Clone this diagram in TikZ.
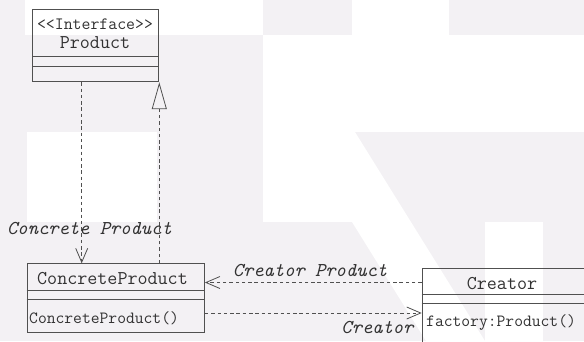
\documentclass[tikz,border=0pt]{standalone}
\usetikzlibrary{arrows.meta,calc}
\definecolor{wmgrey}{RGB}{243,241,244}
\definecolor{ink}{RGB}{80,80,80}
\definecolor{txt}{RGB}{50,50,50}
\tikzset{
  classbox/.style={draw=ink, line width=0.9pt, inner sep=0pt, anchor=north west},
  sepline/.style={draw=ink, line width=0.9pt},
  clsname/.style={text=txt, inner sep=0pt, font=\ttfamily\fontsize{19.5}{20}\selectfont},
  stereo/.style={text=txt, inner sep=0pt, font=\ttfamily\fontsize{17.3}{18}\selectfont},
  member/.style={text=txt, inner sep=0pt, anchor=west, font=\ttfamily\fontsize{17.1}{18}\selectfont},
  lbl/.style={text=txt, inner sep=0pt, font=\ttfamily\itshape\fontsize{19.6}{20}\selectfont},
  dep/.style={draw=ink, line width=0.8pt, dash pattern=on 3.5pt off 2.8pt,
    -{Straight Barb[length=14pt,width=12pt,line width=0.8pt]}},
  real/.style={draw=ink, line width=0.8pt, dash pattern=on 3.5pt off 2.8pt,
    -{Triangle[open,length=27pt,width=15pt,line width=0.8pt]}}
}
\begin{document}
\begin{tikzpicture}[x=1pt,y=-1pt]
  \clip (0,0) rectangle (584,341);
  % faint watermark in the background
  \fill[wmgrey] (0,0) rectangle (584,341);
  \fill[white] (25,0) rectangle (263,35);
  \fill[white] (352,0) rectangle (449,35);
  \fill[white] (263,35) rectangle (584,132);
  \fill[white] (263,132) rectangle (352,222);
  \fill[white] (352,132) -- (355,132) -- (485,341) -- (426,341) -- (352,222) -- cycle;
  \fill[white] (485,222) rectangle (543,341);
  \fill[white] (27,132) rectangle (157,222);

  % Product interface
  \node[classbox, minimum width=125.4pt, minimum height=72pt] (product) at (32.3,9.3) {};
  \draw[sepline] ($(product.north west)+(0,47.4)$) -- ($(product.north east)+(0,47.4)$);
  \draw[sepline] ($(product.north west)+(0,57.4)$) -- ($(product.north east)+(0,57.4)$);
  \node[stereo] (productstereo) at (95,24) {<<Interface>>};
  \node[clsname] (productname) at (95,43) {Product};

  % ConcreteProduct class
  \node[classbox, minimum width=177.3pt, minimum height=68.4pt] (concrete) at (26.7,263.3) {};
  \draw[sepline] ($(concrete.north west)+(0,27.4)$) -- ($(concrete.north east)+(0,27.4)$);
  \draw[sepline] ($(concrete.north west)+(0,35.7)$) -- ($(concrete.north east)+(0,35.7)$);
  \node[clsname] (concretename) at (112.5,279) {ConcreteProduct};
  \node[member] (concreteop) at (29,318) {ConcreteProduct()};

  % Creator class
  \node[classbox, minimum width=165pt, minimum height=80pt] (creator) at (421.7,267.7) {};
  \draw[sepline] ($(creator.north west)+(0,26.6)$) -- ($(creator.north east)+(0,26.6)$);
  \draw[sepline] ($(creator.north west)+(0,35.6)$) -- ($(creator.north east)+(0,35.6)$);
  \node[clsname] (creatorname) at (502,283.3) {Creator};
  \node[member] (creatorop) at (426,323) {factory:Product()};

  % relations
  \draw[dep] ([xshift=49.4pt]product.south west) -- ([xshift=55pt]concrete.north west);
  \draw[real] ([xshift=132.6pt]concrete.north west) -- ([xshift=127pt]product.south west);
  \draw[dep] ([yshift=-14.8pt]creator.north west) -- ([yshift=-14.8pt]creator.north west -| concrete.east);
  \draw[dep] ([yshift=-49.7pt]concrete.north east) -- ([yshift=-49.7pt]concrete.north east -| creator.west);

  % relation labels
  \node[lbl] (lblconcrete) at (89.5,229) {Concrete Product};
  \node[lbl] (lblcreatorproduct) at (310,271) {Creator Product};
  \node[lbl] (lblcreator) at (377.5,328) {Creator};
\end{tikzpicture}
\end{document}
